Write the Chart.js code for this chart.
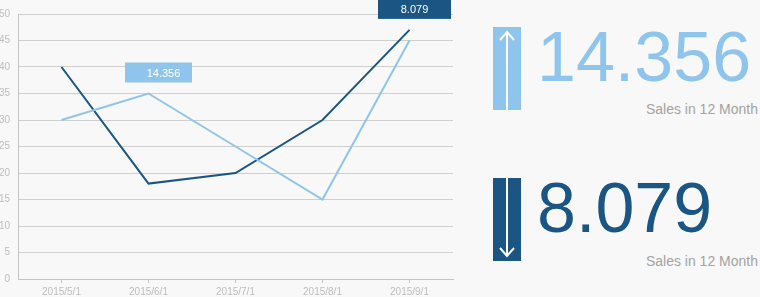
<!DOCTYPE html>
<html>
<head>
<meta charset="utf-8">
<script src="https://cdn.jsdelivr.net/npm/chart.js@4/dist/chart.umd.min.js"></script>
<style>
  html,body{margin:0;padding:0;background:#f8f8f8;}
  body{width:760px;height:297px;position:relative;overflow:hidden;font-family:"Liberation Sans",Arial,sans-serif;}
  #chartBox{position:absolute;left:-10px;top:0;width:470px;height:297px;}
  .kpi-bar{position:absolute;left:493px;width:28px;height:83px;}
  .kpi-num{position:absolute;left:537px;font-size:70px;line-height:1;letter-spacing:0;}
  .kpi-sub{position:absolute;right:2px;font-size:14px;color:#a3a3a3;}
</style>
</head>
<body>
<div id="chartBox"><canvas id="c"></canvas></div>

<!-- right hand KPI panel -->
<svg class="kpi-bar" style="top:27px" viewBox="0 0 28 83">
  <rect x="0" y="0" width="28" height="83" fill="#8fc5ec"/>
  <line x1="14" y1="6" x2="14" y2="83" stroke="#fff" stroke-width="2"/>
  <polyline points="7,13 14,5 21,13" fill="none" stroke="#fff" stroke-width="2"/>
</svg>
<div class="kpi-num" id="kpiUp" style="top:22px;color:#8fc5ec"></div>
<div class="kpi-sub" style="top:101px">Sales in 12 Month</div>

<svg class="kpi-bar" style="top:178px" viewBox="0 0 28 83">
  <rect x="0" y="0" width="28" height="83" fill="#1a5584"/>
  <line x1="14" y1="0" x2="14" y2="78" stroke="#fff" stroke-width="2"/>
  <polyline points="7,70 14,78 21,70" fill="none" stroke="#fff" stroke-width="2"/>
</svg>
<div class="kpi-num" id="kpiDown" style="top:173px;color:#1a5584"></div>
<div class="kpi-sub" style="top:253px">Sales in 12 Month</div>

<script>
/* ── data ───────────────────────────────────────── */
var categories = ['2015/5/1','2015/6/1','2015/7/1','2015/8/1','2015/9/1'];
var lightSeries = [30, 35, 25, 15, 45];
var darkSeries  = [40, 18, 20, 30, 47];
var callouts    = ['14.356', '8.079'];   // light, dark
var calloutIdx  = [1, 4];                // which point each callout sits over

var LIGHT = '#8fc5ec', DARK = '#1a5584';
// box look per callout: width, horizontal shift from the point, gap above it, text shift
var calloutBox = [{w: 67, dx: 10, gap: 11, tx: 5}, {w: 73, dx: 5, gap: 11, tx: 0}];

document.getElementById('kpiUp').textContent = callouts[0];
document.getElementById('kpiDown').textContent = callouts[1];

// Draws the little value boxes above a chosen point of each line
var calloutPlugin = {
  id: 'callouts',
  afterDatasetsDraw: function(chart){
    var ctx = chart.ctx;
    [LIGHT, DARK].forEach(function(col, di){
      var pt = chart.getDatasetMeta(di).data[calloutIdx[di]];
      if(!pt) return;
      var b = calloutBox[di], h = 20;
      var x = pt.x + b.dx - b.w/2, y = pt.y - b.gap - h;
      ctx.save();
      ctx.fillStyle = col;
      ctx.fillRect(x, y, b.w, h);
      ctx.fillStyle = '#fff';
      ctx.font = '11px "Liberation Sans", Arial, sans-serif';
      ctx.textAlign = 'center';
      ctx.textBaseline = 'middle';
      ctx.fillText(callouts[di], x + b.w/2 + b.tx, y + h/2 + 1);
      ctx.restore();
    });
  }
};

new Chart(document.getElementById('c'), {
  type: 'line',
  data: {
    labels: categories,
    datasets: [
      {data: lightSeries, borderColor: LIGHT, borderWidth: 2, pointRadius: 0, tension: 0, fill: false},
      {data: darkSeries,  borderColor: DARK,  borderWidth: 2, pointRadius: 0, tension: 0, fill: false}
    ]
  },
  options: {
    responsive: true,
    maintainAspectRatio: false,
    animation: false,
    layout: {padding: {top: 13, right: 7, left: 0, bottom: 0}},
    plugins: {legend: {display: false}, tooltip: {enabled: false}},
    scales: {
      x: {
        offset: true,
        grid: {drawOnChartArea: false, drawTicks: true, tickLength: 4, color: '#c4c4c4'},
        border: {color: '#c4c4c4'},
        ticks: {color: '#bdbdbd', font: {size: 10, family: '"Liberation Sans", Arial'}, padding: 3, maxRotation: 0},
        afterFit: function(s){ s.height = 18; }
      },
      y: {
        min: 0, max: 50,
        grid: {color: '#cfcfcf', drawTicks: false},
        border: {color: '#c4c4c4'},
        ticks: {stepSize: 5, color: '#bdbdbd', font: {size: 10, family: '"Liberation Sans", Arial'}, padding: 8},
        afterFit: function(s){ s.width = 28; }
      }
    }
  },
  plugins: [calloutPlugin]
});
</script>
</body>
</html>
